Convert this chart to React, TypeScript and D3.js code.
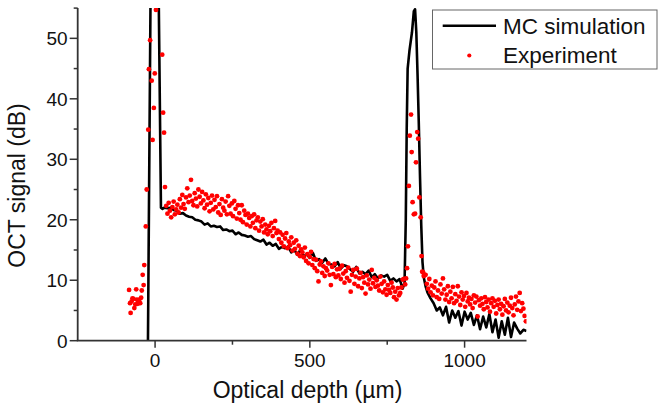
import React from 'react';
import * as d3 from 'd3';

// MC simulation curve (depth in µm, signal in dB)
const simDepth = [
  -23, -12, 8, 19, 24, 30, 40, 50, 60, 70, 80, 90, 100, 110, 120, 130, 140, 150, 160, 170, 180, 190,
  200, 210, 220, 230, 240, 250, 260, 270, 280, 290, 300, 310, 320, 330, 340, 350, 360, 370, 380,
  390, 400, 410, 420, 430, 440, 450, 460, 470, 480, 490, 500, 510, 520, 530, 540, 550, 560, 570,
  580, 590, 600, 610, 620, 630, 640, 650, 660, 670, 680, 690, 700, 710, 720, 730, 740, 750, 760,
  770, 780, 790, 800, 806, 810, 813, 816, 822, 830, 836, 840, 844, 848, 852, 856, 860, 864, 868,
  874, 880, 890, 900, 910, 920, 930, 940, 950, 960, 970, 980, 990, 1000, 1010, 1020, 1030, 1040,
  1050, 1060, 1070, 1080, 1090, 1100, 1110, 1120, 1130, 1140, 1150, 1160, 1170, 1180, 1190, 1200,
];
const simSignal = [
  0, 75, 75, 22.0, 21.8,
  22.0, 21.9, 22.0, 21.6, 21.5, 21.0, 21.1, 20.7, 20.5, 20.4,
  20.0, 19.9, 19.7, 19.2, 19.4, 18.9, 19.0, 18.8, 18.9, 18.3,
  18.4, 18.1, 18.2, 17.6, 17.9, 17.5, 17.4, 17.2, 17.3, 16.8,
  16.6, 16.4, 16.7, 15.9, 16.2, 15.7, 16.0, 15.2, 15.5, 15.3,
  15.6, 14.6, 15.0, 14.2, 15.1, 13.9, 14.3, 13.7, 14.5, 13.2,
  13.5, 12.9, 13.6, 12.7, 12.6, 12.3, 13.0, 11.9, 12.5, 12.3,
  11.8, 11.4, 12.2, 11.1, 11.4, 11.0, 11.6, 10.5, 11.0, 10.3,
  10.8, 10.6, 10.9, 9.9, 10.3, 9.8, 10.2, 8.6,
  9.5, 20, 35, 45, 48, 51, 54.5, 54.8, 51, 44, 36, 27, 19, 13, 10.5,
  9.0, 8.0, 7.0, 6.2, 5.0, 5.5, 4.2, 5.6, 3.0, 5.0, 3.8, 4.9, 2.5, 4.8, 3.5, 4.6, 2.6, 4.2,
  1.9, 4.0, 2.2, 4.4, 1.4, 3.5, 0.5, 3.2, 1.0, 3.8, 0.6, 3.0, 2.0, 1.2, 1.8, 1.6,
];

// Experiment points
const expDepth = [
  -84, -81, -79, -76, -73, -70, -67, -64, -61, -59, -56, -54, -51, -48, -45, -43, -40, -37, -35, -30,
  -27, -22, -20, -16, -11, -8, -4, -1, 3, 23, 26, 29, 32,
  36, 40, 44, 48, 52, 56, 60, 64, 68, 72,
  76, 80, 84, 88, 92, 96, 100, 104, 108, 112,
  116, 120, 124, 128, 132, 136, 140, 144, 148, 152,
  156, 160, 164, 168, 172, 176, 180, 184, 188, 192,
  196, 200, 204, 208, 212, 216, 220, 224, 228, 232,
  236, 240, 244, 248, 252, 256, 260, 264, 268, 272,
  276, 280, 284, 288, 292, 296, 300, 304, 308, 312,
  316, 320, 324, 328, 332, 336, 340, 344, 348, 352,
  356, 360, 364, 368, 372, 376, 380, 384, 388, 392,
  396, 400, 404, 408, 412, 416, 420, 424, 428, 432,
  436, 440, 444, 448, 452, 456, 460, 464, 468, 472,
  476, 480, 484, 488, 492, 496, 500, 504, 508, 512,
  516, 520, 524, 528, 532, 536, 540, 544, 548, 552,
  556, 560, 564, 568, 572, 576, 580, 584, 588, 592,
  596, 600, 604, 608, 612, 616, 620, 624, 628, 632,
  636, 640, 644, 648, 652, 656, 660, 664, 668, 672,
  676, 680, 684, 688, 692, 696, 700, 704, 708, 712,
  716, 720, 724, 728, 732, 736, 740, 744, 748, 752,
  756, 760, 764, 768, 772, 776, 780, 784, 788, 792,
  796, 800,
  804, 808, 811, 814, 817, 820, 823, 827, 829, 832, 836, 840, 843, 847, 850, 854, 858, 861, 863,
  866, 868, 870,
  874, 878, 882, 886, 890, 894, 898, 902, 906, 910,
  914, 918, 922, 926, 930, 934, 938, 942, 946, 950,
  954, 958, 962, 966, 970, 974, 978, 982, 986, 990,
  994, 998, 1002, 1006, 1010, 1014, 1018, 1022, 1026, 1030,
  1034, 1038, 1042, 1046, 1050, 1054, 1058, 1062, 1066, 1070,
  1074, 1078, 1082, 1086, 1090, 1094, 1098, 1102, 1106, 1110,
  1114, 1118, 1122, 1126, 1130, 1134, 1138, 1142, 1146, 1150,
  1154, 1158, 1162, 1166, 1170, 1174, 1178, 1182, 1186, 1190,
  1194, 1198,
];
const expSignal = [
  8.4, 6.2, 4.6, 6.5, 7.0, 6.9, 5.4, 6.0, 8.5, 6.8, 6.1, 6.5, 6.8, 6.2, 7.1, 8.3, 10.9, 9.2, 12.5, 18.9,
  25.0, 34.9, 44.9, 49.7, 43.0, 33.2, 38.5, 44.2, 54.7, 47.3, 37.7, 34.4, 25.4,
  22.3, 21.0, 22.8, 21.5, 20.4, 22.1, 23.0, 20.9, 21.7, 22.5,
  21.2, 23.4, 22.0, 24.1, 22.6, 21.8, 23.7, 25.2, 22.9, 24.0,
  26.6, 23.1, 22.4, 24.4, 23.5, 22.2, 25.0, 23.8, 22.7, 24.6,
  23.2, 21.9, 24.2, 22.5, 23.6, 21.4, 22.8, 24.0, 21.7, 23.3,
  22.1, 23.9, 21.2, 22.6, 20.8, 23.4, 22.0, 21.5, 23.0, 20.9,
  23.9, 22.3, 21.0, 22.7, 20.6, 23.1, 21.8, 20.2, 22.4, 21.1,
  20.0, 22.4, 19.6, 21.5, 20.8, 19.2, 21.0, 20.3, 18.9, 20.6,
  19.5, 20.9, 18.6, 19.9, 20.4, 18.2, 19.7, 18.9, 20.1, 17.9,
  19.2, 18.4, 17.6, 19.0, 18.1, 19.5, 17.3, 18.6, 19.8, 17.8,
  18.2, 16.8, 17.9, 16.2, 17.5, 15.6, 16.9, 17.8, 15.3, 16.4,
  15.8, 17.1, 14.9, 16.2, 15.2, 16.6, 14.4, 15.7, 14.0, 15.1,
  14.6, 13.8, 15.4, 13.2, 14.3, 12.8, 13.9, 14.7, 12.5, 13.5,
  12.0, 13.4, 11.5, 9.8, 12.6, 13.1, 11.2, 12.3, 10.7, 12.0,
  11.6, 12.8, 10.9, 9.2, 12.2, 11.0, 12.7, 10.5, 11.8, 10.8,
  11.9, 10.2, 12.4, 11.1, 9.6, 11.5, 10.4, 12.1, 9.9, 8.1,
  10.9, 11.7, 9.4, 10.6, 11.9, 9.0, 10.3, 11.2, 8.7, 10.5,
  9.6, 7.8, 10.8, 9.3, 10.1, 8.6, 11.7, 9.5, 10.4, 8.9,
  10.0, 9.1, 8.3, 10.6, 9.4, 8.0, 9.8, 8.5, 7.6, 9.2,
  8.4, 7.9, 9.6, 8.8, 7.2, 8.1, 6.8, 8.7, 7.5, 7.9,
  8.8, 10.1,
  10.2, 9.3, 10.3, 12.0, 15.6, 25.6, 33.9, 37.4, 31.2, 22.9, 20.9, 21.0, 29.5, 34.5, 33.4, 23.7, 20.4,
  14.0, 11.4, 11.3, 10.7, 10.8,
  10.9, 9.4, 8.6, 10.2, 8.0, 9.1, 7.5, 8.8, 9.8, 7.2,
  8.3, 6.9, 9.3, 7.8, 10.3, 8.5, 6.8, 7.6, 9.0, 6.4,
  8.1, 7.0, 8.9, 6.2, 7.7, 6.6, 9.0, 7.3, 5.9, 8.0,
  6.8, 7.4, 5.6, 7.9, 6.5, 7.1, 6.0, 6.9, 5.4, 7.5,
  6.3, 7.3, 4.0, 6.7, 5.8, 7.0, 6.1, 5.2, 7.2, 6.4,
  5.5, 6.8, 4.8, 6.2, 7.0, 5.6, 6.6, 4.5, 5.9, 6.8,
  5.2, 6.1, 4.3, 5.7, 6.9, 5.0, 6.3, 4.7, 5.8, 7.1,
  5.4, 4.2, 6.0, 7.3, 5.1, 6.5, 7.9, 4.9, 6.2, 5.3,
  4.1, 3.2,
];

const xTicks = [0, 500, 1000];
const xMinorTicks = [250, 750];
const yTicks = [0, 10, 20, 30, 40, 50];
const yMinorTicks = [5, 15, 25, 35, 45, 55];
const seriesNames = ['MC simulation', 'Experiment'];
const xTitle = 'Optical depth (\u00b5m)';
const yTitle = 'OCT signal (dB)';

const W = 664;
const H = 410;
const PL = 77.7, PR = 526.5, PT = 8.1, PB = 340.7;
const FONT = '"Liberation Sans", Arial, sans-serif';
const AXIS = '#333';

export default function App() {
  const x = d3.scaleLinear().domain([-250, 1200]).range([PL, PR]);
  const y = d3.scaleLinear().domain([0, 55]).range([PB, PT]);
  const simPts: [number, number][] = simDepth.map((d, i) => [d, simSignal[i]]);
  const line = d3.line<[number, number]>().x((d) => x(d[0])).y((d) => y(d[1]));
  const expPts = expDepth.map((d, i) => [d, expSignal[i]]);

  return (
    <svg width={W} height={H} style={{ position: 'absolute', left: 0, top: 0, display: 'block', background: '#fff' }}>
      <defs>
        <clipPath id="plotClip">
          <rect x={PL} y={PT} width={PR - PL} height={PB - PT} />
        </clipPath>
      </defs>
      <rect x={0} y={0} width={W} height={H} fill="#fff" />
      <g clipPath="url(#plotClip)">
        <path d={line(simPts) || ''} fill="none" stroke="#000" strokeWidth={2.6} strokeLinejoin="round" />
        {expPts.map((p, i) => (
          <circle key={i} cx={x(p[0])} cy={y(p[1])} r={2.4} fill="#ff0000" />
        ))}
      </g>
      {/* axes */}
      <line x1={PL} x2={PL} y1={PT} y2={PB} stroke={AXIS} strokeWidth={1.8} />
      <line x1={PL - 0.9} x2={PR} y1={PB} y2={PB} stroke={AXIS} strokeWidth={1.8} />
      {yTicks.map((t) => (
        <g key={'y' + t}>
          <line x1={PL - 8} x2={PL} y1={y(t)} y2={y(t)} stroke={AXIS} strokeWidth={1.5} />
          <text x={PL - 10} y={y(t) + 6.8} textAnchor="end" fontFamily={FONT} fontSize={19} fill="#111">{t}</text>
        </g>
      ))}
      {yMinorTicks.map((t) => (
        <line key={'ym' + t} x1={PL - 4} x2={PL} y1={y(t)} y2={y(t)} stroke={AXIS} strokeWidth={1.5} />
      ))}
      {xTicks.map((t) => (
        <g key={'x' + t}>
          <line x1={x(t)} x2={x(t)} y1={PB} y2={PB + 7} stroke={AXIS} strokeWidth={1.5} />
          <text x={x(t)} y={366.5} textAnchor="middle" fontFamily={FONT} fontSize={19} fill="#111">{t}</text>
        </g>
      ))}
      {xMinorTicks.map((t) => (
        <line key={'xm' + t} x1={x(t)} x2={x(t)} y1={PB} y2={PB + 4} stroke={AXIS} strokeWidth={1.5} />
      ))}
      <text x={307.5} y={397.5} textAnchor="middle" fontFamily={FONT} fontSize={23} fill="#111">{xTitle}</text>
      <text transform={`translate(25,185.5) rotate(-90)`} textAnchor="middle" fontFamily={FONT} fontSize={23} fill="#111">{yTitle}</text>
      {/* legend */}
      <rect x={432.5} y={10} width={224.5} height={59} fill="#fff" stroke="#666" strokeWidth={1} />
      <line x1={442.7} x2={496} y1={25.7} y2={25.7} stroke="#000" strokeWidth={2.6} />
      <text x={503} y={33.5} fontFamily={FONT} fontSize={22.5} fill="#111">{seriesNames[0]}</text>
      <circle cx={469.3} cy={55.5} r={2.1} fill="#ff0000" />
      <text x={503} y={62.5} fontFamily={FONT} fontSize={22.5} fill="#111">{seriesNames[1]}</text>
    </svg>
  );
}
